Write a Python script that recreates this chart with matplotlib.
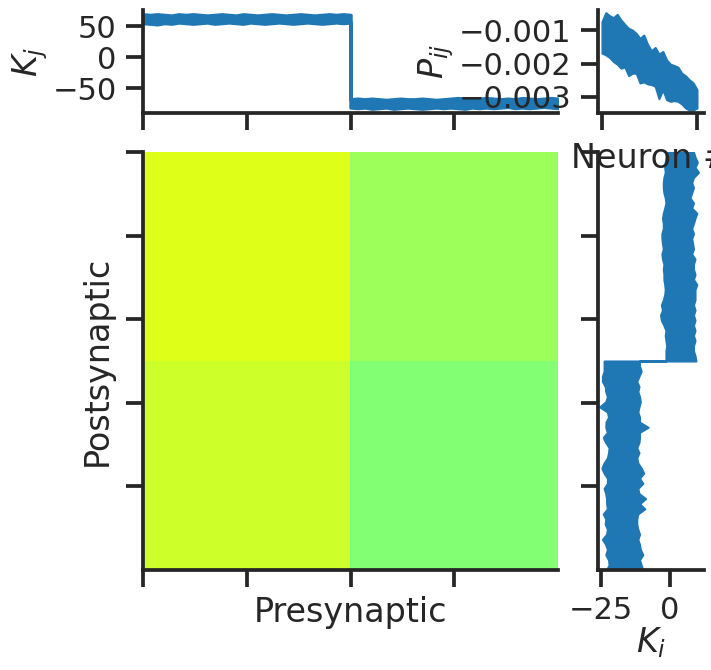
import numpy as np
import matplotlib
matplotlib.use("Agg")
import matplotlib.pyplot as plt

W, H = 711, 670
N = 2000
DARK = "#262626"
BLUE = "#1f77b4"

# block values of the connectivity map, in colormap units
P_blocks = [[0.62, 0.54],
            [0.60, 0.51]]

# K_j along the presynaptic axis: spread of the noisy trace, read as low / high edges
Kj_exc_hi = [69, 68, 69, 68, 67, 69, 68, 69, 68, 67, 68, 69, 68, 67, 69, 68, 67, 68, 69, 68,
             67, 68, 69, 68, 67, 68, 69, 68, 69, 68]
Kj_exc_lo = [55, 54, 53, 55, 54, 56, 55, 54, 55, 56, 54, 55, 56, 55, 54, 56, 55, 54, 55, 56,
             55, 54, 55, 56, 55, 54, 55, 56, 55, 56]
Kj_inh_hi = [-68, -67, -68, -67, -68, -69, -68, -67, -68, -68, -67, -68, -69, -68, -67, -66, -67, -68, -67, -66,
             -67, -68, -67, -68, -66, -67, -68, -67, -66, -67]
Kj_inh_lo = [-81, -82, -81, -83, -82, -81, -83, -82, -81, -82, -83, -82, -81, -82, -81, -82, -83, -81, -82, -81,
             -82, -81, -80, -82, -81, -82, -81, -80, -81, -82]

# K_i along the postsynaptic axis, low / high edges from top to bottom
Ki_exc_lo = [-1.45, -1.45, -1.7, -1.9, -1.7, -2.2, -2.4, -2.4, -2.2, -1.7, -1.45, -1.9, -2.4, -2.7,
             -2.4, -2.4, -2.9, -2.9, -2.7, -2.4, -2.9, -2.7, -2.2, -2.4, -2.2, -2.2, -1.9, -1.7,
             -1.9, -2.4, -3.1, -2.7, -3.4, -3.1, -2.2, -1.45, -1.7, -1.45, -1.2, -1.45, -1.45, -1.45]
Ki_exc_hi = [8.5, 9.05, 9.9, 9.05, 10.3, 8.5, 7.85, 8.5, 7.85, 7.25, 8.5, 7.85, 9.7, 9.05,
             8.5, 7.85, 8.5, 7.85, 8.2, 8.5, 7.85, 9.05, 8.5, 8.5, 9.05, 8.5, 9.7, 9.05,
             9.05, 9.05, 8.5, 9.05, 8.5, 9.05, 8.5, 9.05, 8.5, 9.05, 8.5, 8.5, 9.05, 9.4]
Ki_inh_lo = [-23.8, -23.8, -23.8, -24.4, -24.4, -23.4, -23.2, -22.6, -23.2, -25.4, -22.6, -22.2, -23.1, -23.2,
             -22.6, -24.1, -23.2, -22.0, -22.2, -22.6, -23.8, -24.6, -23.8, -22.6, -22.6, -23.8, -23.2, -22.9,
             -22.9, -22.6, -24.1, -23.2, -23.4, -22.6, -22.9, -24.4, -23.2, -22.6, -23.2, -22.2, -22.0, -22.9]
Ki_inh_hi = [-11.0, -11.0, -10.4, -11.2, -12.0, -11.2, -11.6, -11.0, -10.7, -11.2, -11.6, -11.0, -11.0, -7.9,
             -11.0, -11.0, -11.2, -12.0, -11.2, -12.0, -11.6, -10.4, -9.5, -11.0, -9.8, -11.6, -11.2, -8.8,
             -11.0, -9.1, -11.6, -12.0, -12.0, -11.6, -11.0, -11.6, -11.0, -10.7, -9.8, -11.0, -10.4, -9.8]

# P_ij in the corner panel, low / high edges
Pij_hi = [-0.00075, -0.00048, -0.00057, -0.00063, -0.00053, -0.00070, -0.00083, -0.00095, -0.00100, -0.00110,
          -0.00125, -0.00115, -0.00143, -0.00162, -0.00152, -0.00172, -0.00164, -0.00189, -0.00202, -0.00206,
          -0.00211, -0.00229, -0.00237, -0.00249, -0.00258, -0.00278]
Pij_lo = [-0.00169, -0.00174, -0.00182, -0.00194, -0.00202, -0.00214, -0.00210, -0.00236, -0.00229, -0.00229,
          -0.00258, -0.00255, -0.00261, -0.00263, -0.00268, -0.00305, -0.00278, -0.00308, -0.00313, -0.00311,
          -0.00313, -0.00321, -0.00333, -0.00339, -0.00339, -0.00333]

neuron_ticks = [0, 500, 1000, 1500]
post_ticks = [0, 400, 800, 1200, 1600]
Kj_ticks = [-50, 0, 50]
Ki_ticks = [-25, 0]
Pij_ticks = [-0.003, -0.002, -0.001]

plt.rcParams.update({
    "font.family": "DejaVu Sans",
    "font.size": 22,
    "text.color": DARK,
    "axes.labelcolor": DARK,
    "axes.edgecolor": DARK,
    "axes.linewidth": 2.7,
    "xtick.color": DARK,
    "ytick.color": DARK,
    "xtick.major.size": 12,
    "ytick.major.size": 12,
    "xtick.major.width": 2.7,
    "ytick.major.width": 2.7,
    "xtick.major.pad": 7,
    "ytick.major.pad": 7,
    "mathtext.default": "it",
})


def make_axes(fig, left, top, right, bottom):
    # pixel box of the reference -> figure fractions
    ax = fig.add_axes([left / W, 1 - bottom / H, (right - left) / W, (bottom - top) / H])
    ax.spines["top"].set_visible(False)
    ax.spines["right"].set_visible(False)
    return ax


def half_grid(n):
    # same neuron index for both populations, meeting at the boundary
    return np.concatenate([np.linspace(0, N / 2, n), np.linspace(N / 2, N, n)])


fig = plt.figure(figsize=(W / 100, H / 100), dpi=100)

# main map
ax = make_axes(fig, 143, 152, 558, 570)
ax.imshow(P_blocks, cmap="jet", vmin=0, vmax=1, aspect="auto",
          interpolation="nearest", extent=[0, N, N, 0])
ax.set_xticks(neuron_ticks)
ax.set_yticks(post_ticks)
ax.set_xticklabels([])
ax.set_yticklabels([])
ax.set_xlabel("Presynaptic", fontsize=24, labelpad=0)
ax.set_ylabel("Postsynaptic", fontsize=24, labelpad=2)

# top marginal
ax_top = make_axes(fig, 143, 10, 558, 113)
ax_top.fill_between(half_grid(len(Kj_exc_hi)), Kj_exc_lo + Kj_inh_lo, Kj_exc_hi + Kj_inh_hi,
                    color=BLUE, lw=2.5)
ax_top.set_xlim(0, N)
ax_top.set_ylim(-90, 76)
ax_top.set_xticks(neuron_ticks)
ax_top.set_xticklabels([])
ax_top.set_yticks(Kj_ticks)
ax_top.set_ylabel("$K_j$", fontsize=24, labelpad=2)

# right marginal
ax_right = make_axes(fig, 598, 152, 704, 570)
ax_right.fill_betweenx(half_grid(len(Ki_exc_lo)), Ki_exc_lo + Ki_inh_lo, Ki_exc_hi + Ki_inh_hi,
                       color=BLUE, lw=1.5)
ax_right.set_ylim(N, 0)
ax_right.set_xlim(-26, 12.3)
ax_right.set_yticks(post_ticks)
ax_right.set_yticklabels([])
ax_right.set_xticks(Ki_ticks)
ax_right.set_xlabel("$K_i$", fontsize=24, labelpad=0)

# corner panel
ax_p = make_axes(fig, 598, 10, 704, 113)
ax_p.fill_between(np.linspace(0, 1, len(Pij_hi)), Pij_lo, Pij_hi, color=BLUE, lw=1.5)
ax_p.set_xlim(-0.042, 1.074)
ax_p.set_ylim(-0.00348, -0.0004)
ax_p.set_xticks([0, 1])
ax_p.set_xticklabels([])
ax_p.set_yticks(Pij_ticks)
ax_p.set_yticklabels(["\u22120.003", "\u22120.002", "\u22120.001"])
ax_p.set_xlabel("Neuron #", fontsize=24, labelpad=2)
ax_p.set_ylabel("$P_{ij}$", fontsize=24, labelpad=2)

fig.savefig("out.png", dpi=100)
